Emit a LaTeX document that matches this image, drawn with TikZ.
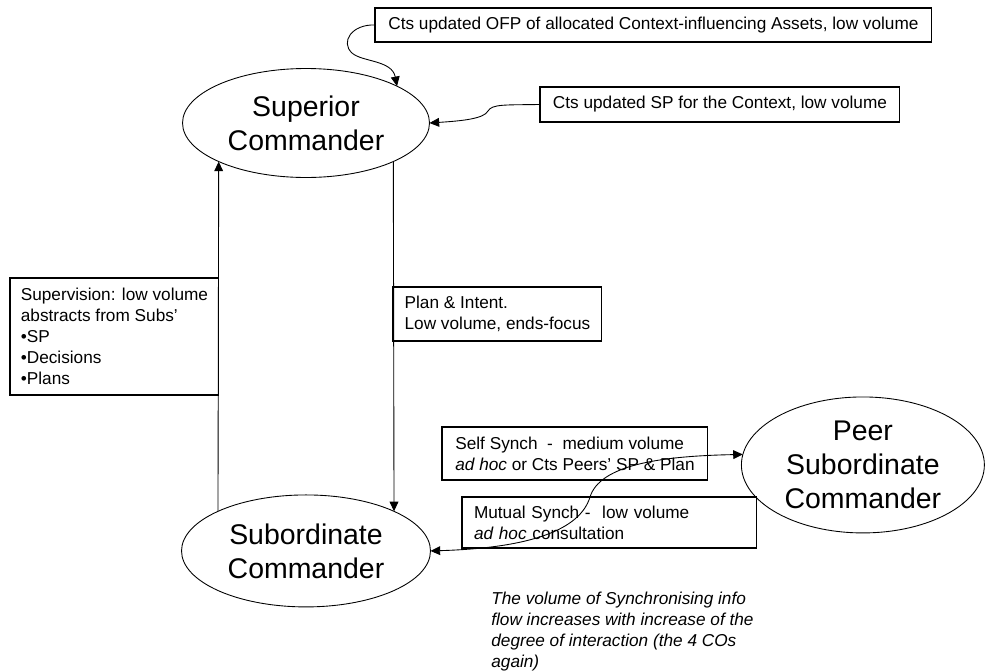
\documentclass[tikz,border=0pt]{standalone}
\usepackage{fontspec}
\setmainfont{Liberation Sans}
\usetikzlibrary{shapes.geometric,arrows.meta,positioning}

\newcommand{\bigtxt}{\fontsize{16.2}{19.3}\selectfont}
\newcommand{\smalltxt}{\fontsize{9.8}{11.9}\selectfont}

\begin{document}
\begin{tikzpicture}[x=0.02cm,y=-0.02cm,>={Triangle[length=5.5pt,width=5pt]}]
\tikzstyle{commander}=[ellipse,draw,line width=0.5pt,
inner sep=0pt,outer sep=0pt,font=\bigtxt,align=center]
\tikzstyle{infobox}=[rectangle,draw,line width=0.6pt,inner sep=0pt,
outer sep=0pt,anchor=north west,align=left,font=\smalltxt]
\tikzstyle{flow}=[line width=0.5pt]
\useasboundingbox (0,0) rectangle (987,670);

\node[commander,minimum width=4.94cm,minimum height=2.18cm] at (306,123) (sup) {Superior\\Commander};
\node[commander,minimum width=4.98cm,minimum height=2.24cm,below of =sup,node distance=8.56cm](sub) {Subordinate\\Commander};
\node[commander,minimum width=4.86cm,minimum height=2.72cm,right of =sub,node distance=8.56cm,xshift=2.58cm,yshift=1.72cm](peer) {Peer\\Subordinate\\Commander};

\node[infobox,minimum width=11.14cm,minimum height=0.68cm] at (375,8) (ofp) {Cts updated OFP of allocated Context-influencing Assets, low volume};
\node[infobox,minimum width=7.2cm,minimum height=0.7cm] at (540,87) (sp) {Cts updated SP for the Context, low volume};
\node[infobox,minimum width=4.18cm,minimum height=2.34cm] at (10,278) (superv) {Supervision: low volume\\abstracts from Subs’\\•SP\\•Decisions\\•Plans};
\node[infobox,minimum width=4.18cm,minimum height=1.08cm] at (393,287) (plan) {Plan \& Intent.\\Low volume, ends-focus};
\node[infobox,minimum width=5.32cm,minimum height=1.06cm] at (442,427) (self) {Self Synch\ \ -\ \ medium volume\\\textit{ad hoc} or Cts Peers’ SP \& Plan};
\node[infobox,minimum width=5.9cm,minimum height=1.02cm,text width=5.42cm] at (462,497) (mutual) {Mutual Synch -\ \ low volume\\\textit{ad hoc} consultation};
\node[anchor=north west,inner sep=0pt,align=left,font=\smalltxt\itshape] at (491,592) (note) {The volume of Synchronising info\\flow increases with increase of the\\degree of interaction (the 4 COs\\again)};

% control points of the synch curve
\coordinate (sc1) at (530,548);
\coordinate (sc2) at (580,530);
\coordinate (sc3) at (590,497);
\coordinate (sc4) at (600,465);
\coordinate (sc5) at (660,456);

\draw[->,flow] (ofp.west) .. controls (352,24) and (340,42) .. (352,53) .. controls (362,62) and (392,60) .. (sup.22);
\draw[->,flow] (sp.west) .. controls (505,105) and (492,104) .. (488,111) .. controls (484,119) and (460,121) .. (sup.east);
\draw[<->,flow] (sub.east) .. controls (sc1) and (sc2) .. (sc3) .. controls (sc4) and (sc5) .. (peer.175);
\path[->,flow] (sub.north west) edge (sup.south west) ;
\path[->,flow] (sup.south east) edge (sub.north east) ;

\end{tikzpicture}
\end{document}
